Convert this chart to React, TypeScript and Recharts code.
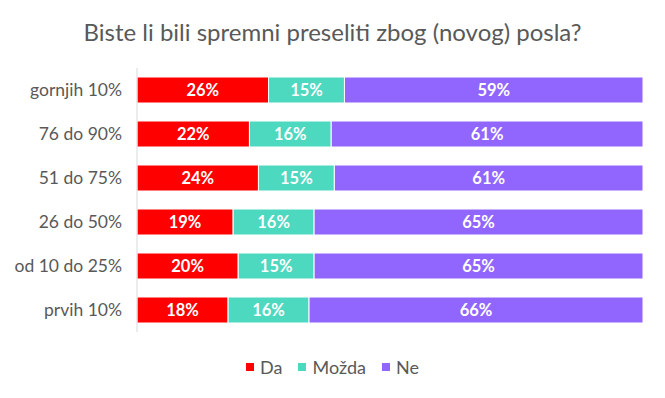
import { BarChart, Bar, XAxis, YAxis, Legend, LabelList } from 'recharts';

const categories = ['gornjih 10%', '76 do 90%', '51 do 75%', '26 do 50%', 'od 10 do 25%', 'prvih 10%'];
const daValues = [26, 22, 24, 19, 20, 18];
const mozdaValues = [15, 16, 15, 16, 15, 16];
const neValues = [59, 61, 61, 65, 65, 66];

const seriesNames = ['Da', 'Možda', 'Ne'];
const seriesKeys = ['da', 'mozda', 'ne'];
const seriesColors = ['#FF0000', '#4DD8C0', '#9166FF'];

const data = categories.map((name, i) => ({
  name,
  da: daValues[i],
  mozda: mozdaValues[i],
  ne: neValues[i],
}));

const font = 'Lato, "Open Sans", sans-serif';

const LegendContent = () => (
  <div style={{ display: 'flex', justifyContent: 'center', height: 20, alignItems: 'center', fontFamily: font, fontSize: 18, color: '#595959' }}>
    {seriesNames.map((n, i) => (
      <div key={n} style={{ display: 'flex', alignItems: 'center', margin: '0 8px' }}>
        <span style={{ width: 8, height: 8, background: seriesColors[i], display: 'inline-block', marginRight: 6 }} />
        <span>{n}</span>
      </div>
    ))}
  </div>
);

const App = () => {
  return (
    <div style={{ position: 'absolute', left: 0, top: 0, width: 665, height: 398, background: '#fff' }}>
      <div style={{ position: 'absolute', top: 17, left: 0, width: 665, textAlign: 'center', fontFamily: font, fontSize: 24, color: '#595959' }}>
        Biste li bili spremni preseliti zbog (novog) posla?
      </div>
      <BarChart
        width={665}
        height={398}
        data={data}
        layout="vertical"
        stackOffset="expand"
        margin={{ top: 68, right: 22, bottom: 46, left: 0 }}
      >
        <XAxis type="number" domain={[0, 1]} hide />
        <YAxis
          type="category"
          dataKey="name"
          width={137}
          tickLine={false}
          tickSize={6}
          tickMargin={9}
          axisLine={{ stroke: '#D9D9D9' }}
          tick={{ fill: '#595959', fontSize: 17.5, fontFamily: font }}
        />
        <Legend verticalAlign="bottom" content={<LegendContent />} wrapperStyle={{ top: 357, left: 0, width: 665 }} />
        {seriesKeys.map((k, i) => (
          <Bar key={k} dataKey={k} name={seriesNames[i]} stackId="a" fill={seriesColors[i]} stroke="#fff" strokeWidth={1} barSize={26} isAnimationActive={false}>
            <LabelList dataKey={k} position="center" fill="#fff" fontSize={16.5} fontWeight="bold" fontFamily={font} formatter={(v: any) => `${v}%`} />
          </Bar>
        ))}
      </BarChart>
    </div>
  );
};

export default App;
